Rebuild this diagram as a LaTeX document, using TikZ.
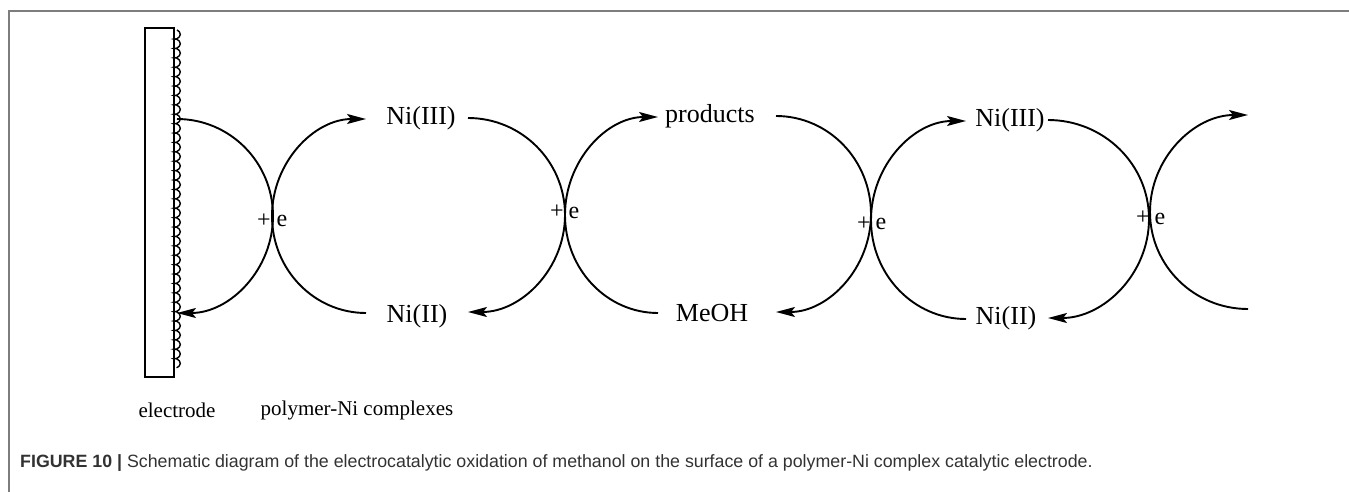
\documentclass[tikz,border=0pt]{standalone}
\usepackage{fontspec}
\setmainfont{Liberation Serif}
\newfontfamily\capfont{Liberation Sans}
\usetikzlibrary{arrows.meta,decorations.pathmorphing,calc}
\definecolor{framegray}{RGB}{125,125,125}
\definecolor{captext}{RGB}{50,50,50}
\begin{document}
\begin{tikzpicture}[x=1pt,y=-1pt,
  cycarrow/.style={line width=1.9pt,-{Stealth[length=19pt,width=10pt,inset=4pt]}},
  lab/.style={font=\fontsize{26}{30}\selectfont,inner sep=0pt},
  blab/.style={font=\fontsize{21}{25}\selectfont,inner sep=0pt},
  pe/.style={font=\fontsize{24}{28}\selectfont,inner sep=0pt}]
\useasboundingbox (0,0) rectangle (1349,492);
% frame
\draw[framegray,line width=2pt] (9,492) -- (9,11) -- (1349,11);
% electrode
\draw[line width=1.3pt] (145,28) rectangle (174,377);
\coordinate (wtop) at (177,30);
\coordinate (wbot) at (177,368);
\draw[line width=1.4pt,decorate,decoration={coil,amplitude=3.3pt,segment length=9.4pt,aspect=0.6}] (wtop) -- (wbot);
% labels
\node[lab] (n3a) at (421,118) {Ni(III)};
\node[lab] (n2a) at (417,316) {Ni(II)};
\node[lab] (prod) at (710,116) {products};
\node[lab] (meoh) at (712,313) {MeOH};
\node[lab] (n3b) at (1010,120) {Ni(III)};
\node[lab] (n2b) at (1006,318) {Ni(II)};
\node[blab] (elec) at (177,410) {electrode};
\node[blab] (poly) at (357,410) {polymer-Ni complexes};
% +e labels
\node[pe] (p1) at (264,221) {+};  \node[pe] (e1) at (282,221) {e};
\node[pe] (p2) at (557,212) {+};  \node[pe] (e2) at (574,213) {e};
\node[pe] (p3) at (864,224) {+};  \node[pe] (e3) at (881,224) {e};
\node[pe] (p4) at (1143,218) {+}; \node[pe] (e4) at (1160,219) {e};
% arc end points
\coordinate (a1s) at (177,119);
\coordinate (a2s) at (366,313);
\coordinate (a3s) at (468,118);
\coordinate (a4s) at (658,313);
\coordinate (a5s) at (776,116);
\coordinate (a6s) at (966,319);
\coordinate (a7s) at (1048,120);
\coordinate (a8s) at (1248,309);
% arcs
\draw[cycarrow] (a1s) arc[start angle=-90,end angle=90,x radius=96,y radius=97];
\draw[cycarrow] (a2s) arc[start angle=90,end angle=270,x radius=94,y radius=97];
\draw[cycarrow] (a3s) arc[start angle=-90,end angle=90,x radius=97,y radius=97];
\draw[cycarrow] (a4s) arc[start angle=90,end angle=270,x radius=93,y radius=98];
\draw[cycarrow] (a5s) arc[start angle=-90,end angle=90,x radius=95,y radius=98];
\draw[cycarrow] (a6s) arc[start angle=90,end angle=270,x radius=95,y radius=99];
\draw[cycarrow] (a7s) arc[start angle=-90,end angle=90,x radius=101,y radius=99];
\draw[cycarrow] (a8s) arc[start angle=90,end angle=270,x radius=98,y radius=97];
% caption
\node[anchor=west,inner sep=0pt,text=captext,font=\capfont\fontsize{17.8}{20}\selectfont] (cap) at (20,463)
  {\textbf{FIGURE 10 |} Schematic diagram of the electrocatalytic oxidation of methanol on the surface of a polymer-Ni complex catalytic electrode.};
\end{tikzpicture}
\end{document}
